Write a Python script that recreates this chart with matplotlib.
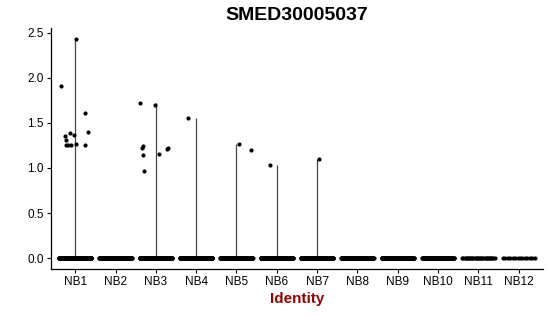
import numpy as np
import matplotlib
matplotlib.use("Agg")
import matplotlib.pyplot as plt

plt.rcParams['font.family'] = ['Liberation Sans', 'DejaVu Sans']

groups = ["NB1", "NB2", "NB3", "NB4", "NB5", "NB6", "NB7", "NB8", "NB9", "NB10", "NB11", "NB12"]
# cells with zero expression per group
zero_counts = [320, 300, 280, 260, 240, 220, 210, 200, 160, 90, 30, 14]

# nonzero cells: group, jitter offset, expression value
nz_group = ["NB1"] * 13 + ["NB3"] * 9 + ["NB4", "NB5", "NB5", "NB6", "NB7"]
nz_offset = [0.03, -0.35, 0.25, 0.31, 0.25, -0.26, -0.22, -0.12, -0.02, -0.23, -0.17, -0.11, 0.02,
             -0.39, -0.01, -0.33, -0.34, -0.31, 0.09, 0.30, 0.28, -0.29,
             -0.19, 0.05, 0.37, -0.16, 0.04]
nz_value = [2.43, 1.91, 1.61, 1.40, 1.25, 1.36, 1.31, 1.39, 1.37, 1.26, 1.26, 1.25, 1.27,
            1.72, 1.70, 1.24, 1.22, 1.14, 1.16, 1.22, 1.21, 0.97,
            1.55, 1.27, 1.20, 1.03, 1.10]

pos = {g: i + 1 for i, g in enumerate(groups)}

fig = plt.figure(figsize=(5.5, 3.16), dpi=100)
ax = fig.add_axes([0.0927, 0.1487, 0.8945, 0.7623])

# violins collapse to a thin line from 0 to the max value
for g in groups:
    vals = [v for gg, v in zip(nz_group, nz_value) if gg == g]
    if vals:
        ax.vlines(pos[g], 0, max(vals), color="#444444", lw=0.9, zorder=2)

# zero cells, spread across the jitter width
for g, n in zip(groups, zero_counts):
    xs = pos[g] + np.linspace(-0.4, 0.4, n)
    ax.scatter(xs, np.zeros(n), s=9, color="black", lw=0, zorder=3)

ax.scatter([pos[g] + o for g, o in zip(nz_group, nz_offset)], nz_value,
           s=9, color="black", lw=0, zorder=3)

ax.set_xlim(0.4, 12.6)
ax.set_ylim(-0.1215, 2.5515)
ax.set_xticks(range(1, len(groups) + 1))
ax.set_xticklabels(groups)
ax.set_yticks([0, 0.5, 1.0, 1.5, 2.0, 2.5])
ax.set_yticklabels(["0.0", "0.5", "1.0", "1.5", "2.0", "2.5"])
ax.tick_params(labelsize=8.5, length=3, width=0.8, colors="black", pad=2)

for s in ["top", "right"]:
    ax.spines[s].set_visible(False)
for s in ["left", "bottom"]:
    ax.spines[s].set_linewidth(0.9)

ax.set_xlabel("Identity", fontsize=11, fontweight="bold", color="#990000", labelpad=3)
fig.text(0.54, 0.95, "SMED30005037", ha="center", va="center", fontsize=14, fontweight="bold")

plt.savefig("out.png", dpi=100)
